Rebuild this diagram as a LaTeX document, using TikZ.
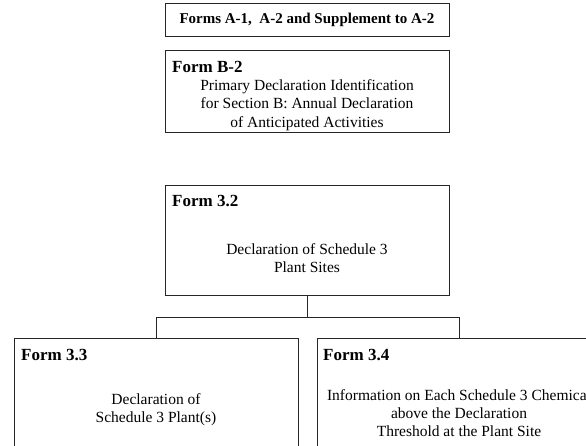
\documentclass[tikz,border=0pt]{standalone}
\usepackage{fontspec}
\setmainfont{Liberation Serif}
\begin{document}
\begin{tikzpicture}[x=1pt,y=-1pt,
  formbox/.style={draw=black!85,line width=0.9pt,rectangle,inner sep=0pt,anchor=north west},
  titletext/.style={font=\bfseries\fontsize{17}{20}\selectfont,inner sep=0pt,anchor=base west},
  bodytext/.style={font=\fontsize{15.5}{18.3}\selectfont,align=center,inner sep=0pt,anchor=center},
  link/.style={draw=black!85,line width=0.9pt}]
\useasboundingbox (0,0) rectangle (586,446);
\clip (0,0) rectangle (586,446);
% boxes
\node[formbox,minimum width=284pt,minimum height=33pt] (fa) at (165,3) {};
\node[formbox,minimum width=284pt,minimum height=82pt] (fb) at (165,50) {};
\node[formbox,minimum width=284pt,minimum height=110pt] (f32) at (165,185) {};
\node[formbox,minimum width=284pt,minimum height=140pt] (f33) at (14,338) {};
\node[formbox,minimum width=284pt,minimum height=140pt] (f34) at (317,338) {};
% texts
\node[font=\bfseries\fontsize{15}{18}\selectfont,inner sep=0pt] (tfa) at (307,20) {Forms A-1,\ \ A-2 and Supplement to A-2};
\node[titletext] (tfb) at (172,73) {Form B-2};
\node[bodytext] (bfb) at (307,105) {Primary Declaration Identification\\for Section B: Annual Declaration\\of Anticipated Activities};
\node[titletext] (t32) at (172,207) {Form 3.2};
\node[bodytext] (b32) at (307,258) {Declaration of Schedule 3\\Plant Sites};
\node[titletext] (t33) at (21,360) {Form 3.3};
\node[bodytext] (b33) at (156,410) {Declaration of\\Schedule 3 Plant(s)};
\node[titletext] (t34) at (323,360) {Form 3.4};
\node[bodytext] (b34) at (459,413) {Information on Each Schedule 3 Chemical\\above the Declaration\\Threshold at the Plant Site};
% connectors
\draw[link] (f32.south) -- ++(0,22) coordinate (mid);
\draw[link] (f33.north) |- (mid) -| (f34.north);
\end{tikzpicture}
\end{document}
